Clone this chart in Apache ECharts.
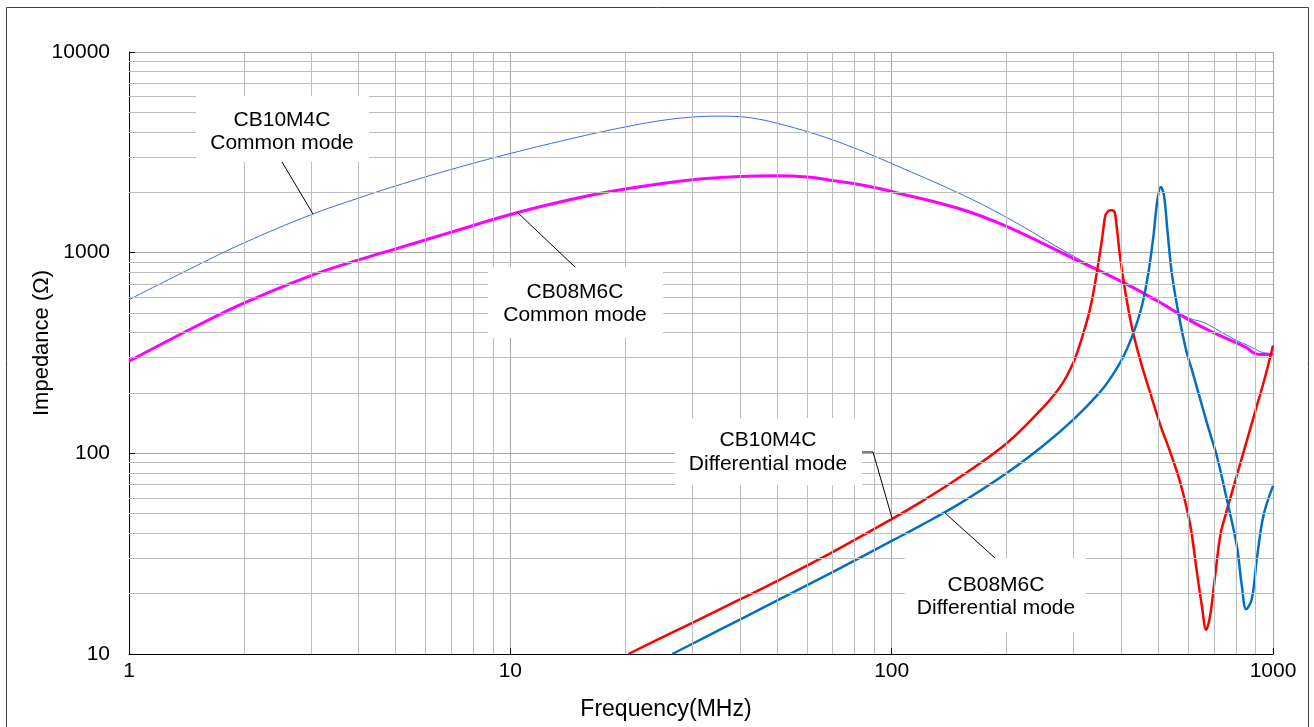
<!DOCTYPE html>
<html>
<head>
<meta charset="utf-8">
<script src="https://cdn.jsdelivr.net/npm/echarts@6/dist/echarts.min.js"></script>
<style>
html,body{margin:0;padding:0;background:#fff;}
#c{width:1314px;height:727px;}
</style>
</head>
<body>
<div id="c"></div>
<script>
// ---------- data ----------
const xTickLabels = ['1', '10', '100', '1000'];
const yTickLabels = ['10', '100', '1000', '10000'];
const xMinorGrid = [2,3,4,5,6,7,8,9,20,30,40,50,60,70,80,90,200,300,400,500,600,700,800,900];
const yMinorGrid = [20,30,40,50,60,70,80,90,200,300,400,500,600,700,800,900,2000,3000,4000,5000,6000,7000,8000,9000];

const cb10CommonF = [1, 1.5, 2, 3, 4, 5, 7, 10, 15, 20, 25, 30, 35, 40, 45, 50, 60, 70, 80, 90, 100, 150, 200, 300, 400, 500, 600, 656, 700, 800, 850, 889, 935, 1000];
const cb10CommonZ = [583, 860, 1117, 1545, 1871, 2150, 2600, 3120, 3760, 4230, 4560, 4740, 4790, 4760, 4620, 4416, 4015, 3650, 3318, 3030, 2780, 1980, 1500, 960, 719, 572, 473, 450, 422, 366, 348, 334, 319, 314];

const cb08CommonF = [1, 1.5, 2, 3, 4, 5, 7, 10, 15, 20, 30, 40, 50, 60, 70, 80, 90, 100, 150, 200, 300, 400, 500, 600, 700, 800, 853, 889, 925, 1000];
const cb08CommonZ = [288, 430, 561, 769, 920, 1045, 1265, 1550, 1871, 2075, 2308, 2398, 2416, 2381, 2290, 2203, 2113, 2018, 1660, 1352, 935, 719, 572, 464, 398, 356, 336, 317, 311, 312];

const cb10DiffF = [20.4, 25, 30, 40, 50, 70, 100, 120, 150, 200, 250, 280, 300, 312, 331, 345, 356, 363, 368.3, 374, 383, 389, 397, 409, 426, 448, 476, 506, 538, 571, 606, 631, 651, 668, 684, 705, 727, 748.3, 771, 836, 906.9, 953.4, 1000];
const cb10DiffZ = [10, 12.1, 14.3, 18.7, 23.1, 32.2, 47.0, 57.6, 75.5, 112, 170, 222, 285, 352, 520, 792, 1161, 1517, 1600, 1625, 1610, 1352, 959, 655, 430, 294, 201, 139, 101, 71.7, 44.4, 25.9, 17.3, 13.2, 15.5, 24.5, 38.8, 48.3, 59, 100.6, 172.3, 240, 344.6];

const cb08DiffF = [26.6, 32, 40, 50, 70, 100, 120, 150, 200, 250, 300, 350, 375, 405, 430.6, 452.8, 471.2, 485.7, 497.6, 507.9, 518.1, 528.4, 542.7, 564.8, 594.1, 612.4, 670.7, 712.3, 756.6, 803.7, 828.4, 850.3, 879.9, 906.9, 943.6, 1000];
const cb08DiffZ = [10, 11.96, 14.85, 18.45, 25.6, 36.6, 44.0, 55.8, 79.5, 109.3, 147.6, 199.4, 237, 303, 398.6, 540.6, 792.5, 1205, 1835, 2123, 1906, 1301, 792.5, 501, 317, 261.8, 142.1, 97.0, 59.0, 34.6, 21.9, 16.7, 18.8, 29.7, 48.8, 68.8];

// ---------- helpers ----------
const zip = (a, b) => a.map((v, i) => [v, b[i]]);
const FONT = '"Liberation Sans", Arial, Helvetica, sans-serif';

const chart = echarts.init(document.getElementById('c'), null, {renderer: 'canvas'});

const gridLineStyle = {color: '#bdbdbd', width: 1, type: 'solid'};

const option = {
  animation: false,
  backgroundColor: '#fff',
  grid: {left: 129, right: 41, top: 52, bottom: 73, containLabel: false},
  xAxis: {
    type: 'log', logBase: 10, min: 1, max: 1000,
    axisLine: {show: true, onZero: false, lineStyle: {color: '#000', width: 1}},
    axisTick: {show: true, inside: true, length: 6, lineStyle: {color: '#000'}},
    axisLabel: {
      color: '#000', fontFamily: FONT, fontSize: 21, margin: 7,
      formatter: v => xTickLabels[Math.round(Math.log10(v))]
    },
    splitLine: {show: true, lineStyle: {color: '#a6a6a6', width: 1}},
    minorTick: {show: false}
  },
  yAxis: {
    type: 'log', logBase: 10, min: 10, max: 10000,
    axisLine: {show: true, onZero: false, lineStyle: {color: '#000', width: 1}},
    axisTick: {show: true, inside: true, length: 6, lineStyle: {color: '#000'}},
    axisLabel: {
      color: '#000', fontFamily: FONT, fontSize: 21, margin: 19,
      formatter: v => yTickLabels[Math.round(Math.log10(v)) - 1]
    },
    splitLine: {show: true, lineStyle: {color: '#a6a6a6', width: 1}}
  },
  series: [
    {
      type: 'line', name: 'grid', data: [], silent: true, z: 1,
      markLine: {
        silent: true, symbol: ['none', 'none'], animation: false,
        label: {show: false}, lineStyle: gridLineStyle,
        emphasis: {disabled: true},
        data: xMinorGrid.map(v => ({xAxis: v})).concat(yMinorGrid.map(v => ({yAxis: v})))
      }
    },
    {
      type: 'line', name: 'CB10M4C Common mode', data: zip(cb10CommonF, cb10CommonZ),
      showSymbol: false, smooth: 0.4, z: 3,
      lineStyle: {color: '#4169e1', width: 1}
    },
    {
      type: 'line', name: 'CB08M6C Common mode', data: zip(cb08CommonF, cb08CommonZ),
      showSymbol: false, smooth: 0.4, z: 3,
      lineStyle: {color: '#ff00ff', width: 3}
    },
    {
      type: 'line', name: 'CB10M4C Differential mode', data: zip(cb10DiffF, cb10DiffZ),
      showSymbol: false, smooth: 0.35, z: 4,
      lineStyle: {color: '#ff0000', width: 2.5}
    },
    {
      type: 'line', name: 'CB08M6C Differential mode', data: zip(cb08DiffF, cb08DiffZ),
      showSymbol: false, smooth: 0.35, z: 4,
      lineStyle: {color: '#0070c0', width: 2.5}
    }
  ],
  graphic: {
    elements: [
      // outer frame
      {type: 'rect', z: 100, silent: true, shape: {x: 6.5, y: 7.5, width: 1302, height: 740},
       style: {fill: 'none', stroke: '#404040', lineWidth: 1}},
      // axis titles
      {type: 'text', z: 100, x: 42, y: 343, rotation: Math.PI / 2,
       style: {text: 'Impedance (Ω)', font: '22px ' + FONT, fill: '#000', align: 'center', verticalAlign: 'middle'}},
      {type: 'text', z: 100, x: 666, y: 710,
       style: {text: 'Frequency(MHz)', font: '23px ' + FONT, fill: '#000', align: 'center', verticalAlign: 'middle'}},
      // annotation 1
      {type: 'rect', z: 100, shape: {x: 196, y: 96, width: 173, height: 66}, style: {fill: '#fff'}},
      {type: 'text', z: 101, x: 282, y: 131.5,
       style: {text: 'CB10M4C\nCommon mode', font: '21px ' + FONT, lineHeight: 23, fill: '#000', align: 'center', verticalAlign: 'middle'}},
      {type: 'polyline', z: 101, shape: {points: [[282, 162], [313, 214]]}, style: {stroke: '#000', lineWidth: 1, fill: 'none'}},
      // annotation 2
      {type: 'rect', z: 100, shape: {x: 488, y: 267, width: 175, height: 71}, style: {fill: '#fff'}},
      {type: 'text', z: 101, x: 575, y: 303.5,
       style: {text: 'CB08M6C\nCommon mode', font: '21px ' + FONT, lineHeight: 23, fill: '#000', align: 'center', verticalAlign: 'middle'}},
      {type: 'polyline', z: 101, shape: {points: [[517, 212], [575, 267]]}, style: {stroke: '#000', lineWidth: 1, fill: 'none'}},
      // annotation 3
      {type: 'rect', z: 100, shape: {x: 675, y: 418, width: 187, height: 67}, style: {fill: '#fff'}},
      {type: 'text', z: 101, x: 768, y: 452.5,
       style: {text: 'CB10M4C\nDifferential mode', font: '21px ' + FONT, lineHeight: 24, fill: '#000', align: 'center', verticalAlign: 'middle'}},
      {type: 'polyline', z: 101, shape: {points: [[862, 452], [873, 452], [892, 518]]}, style: {stroke: '#000', lineWidth: 1, fill: 'none'}},
      // annotation 4
      {type: 'rect', z: 100, shape: {x: 905, y: 558, width: 181, height: 74}, style: {fill: '#fff'}},
      {type: 'text', z: 101, x: 996, y: 596.5,
       style: {text: 'CB08M6C\nDifferential mode', font: '21px ' + FONT, lineHeight: 23, fill: '#000', align: 'center', verticalAlign: 'middle'}},
      {type: 'polyline', z: 101, shape: {points: [[945, 513], [995, 558]]}, style: {stroke: '#000', lineWidth: 1, fill: 'none'}}
    ]
  }
};
chart.setOption(option);
</script>
</body>
</html>
